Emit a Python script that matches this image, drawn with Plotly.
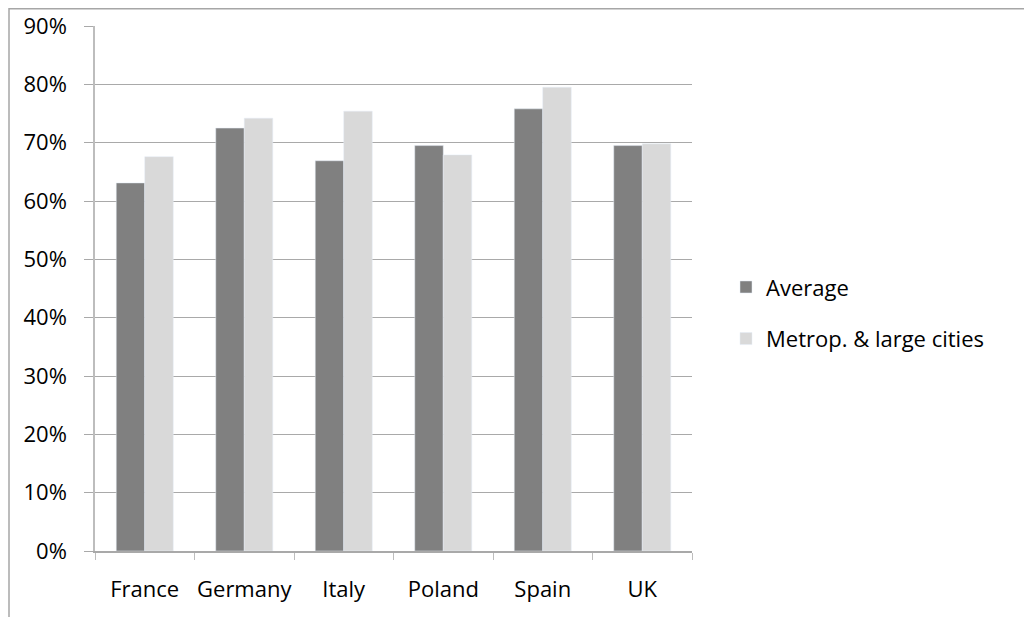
import plotly.graph_objects as go

countries = ["France", "Germany", "Italy", "Poland", "Spain", "UK"]
average = [0.631, 0.725, 0.669, 0.695, 0.758, 0.695]
metro_large = [0.676, 0.742, 0.754, 0.679, 0.795, 0.698]
y_ticks = [i / 10 for i in range(10)]

FONT = "Open Sans"
W, H = 1024, 609          # page body adds an 8px margin
L, T, PW, PH = 87, 18, 597, 525
R, B = W - L - PW, H - T - PH

fig = go.Figure()
fig.add_trace(go.Bar(x=countries, y=average, name="Average",
                     marker_color="#808080", legendgroup="a"))
fig.add_trace(go.Bar(x=countries, y=metro_large, name="Metrop. & large cities",
                     marker_color="#d9d9d9", legendgroup="b"))

fig.update_layout(
    width=W, height=H,
    margin=dict(l=L, r=R, t=T, b=B, autoexpand=False),
    paper_bgcolor="white", plot_bgcolor="white",
    barmode="group", bargap=0.427, bargroupgap=0,
    font=dict(family=FONT, size=22, color="black"),
    legend=dict(x=(718 - L) / PW, y=0.453, xanchor="left", yanchor="middle",
                traceorder="grouped", tracegroupgap=20,
                font=dict(size=22), itemwidth=30),
)
fig.update_yaxes(
    range=[0, 0.9], tickvals=y_ticks + [0.9], tickformat=".0%",
    showgrid=True, gridcolor="#a9a9a9", gridwidth=1,
    showline=True, linecolor="#bdbdbd", linewidth=1.5,
    ticks="outside", ticklen=9, tickcolor="#a9a9a9",
    zeroline=False, ticklabelstandoff=13, automargin=False,
)
fig.update_xaxes(
    showline=True, linecolor="#a9a9a9", linewidth=1.5,
    ticks="outside", ticklen=7, tickcolor="#bdbdbd",
    tickson="boundaries", ticklabelstandoff=18,
    tickangle=0, automargin=False,
)
# chart area border, clipped at the right and bottom edges
fig.add_shape(type="rect", xref="paper", yref="paper",
              x0=(1 - L) / PW, x1=(W + 10 - L) / PW,
              y0=-(H + 10 - T - PH) / PH, y1=1 + (T - 0.75) / PH,
              line=dict(color="#a6a6a6", width=1.5))

fig.write_html("out.html")
